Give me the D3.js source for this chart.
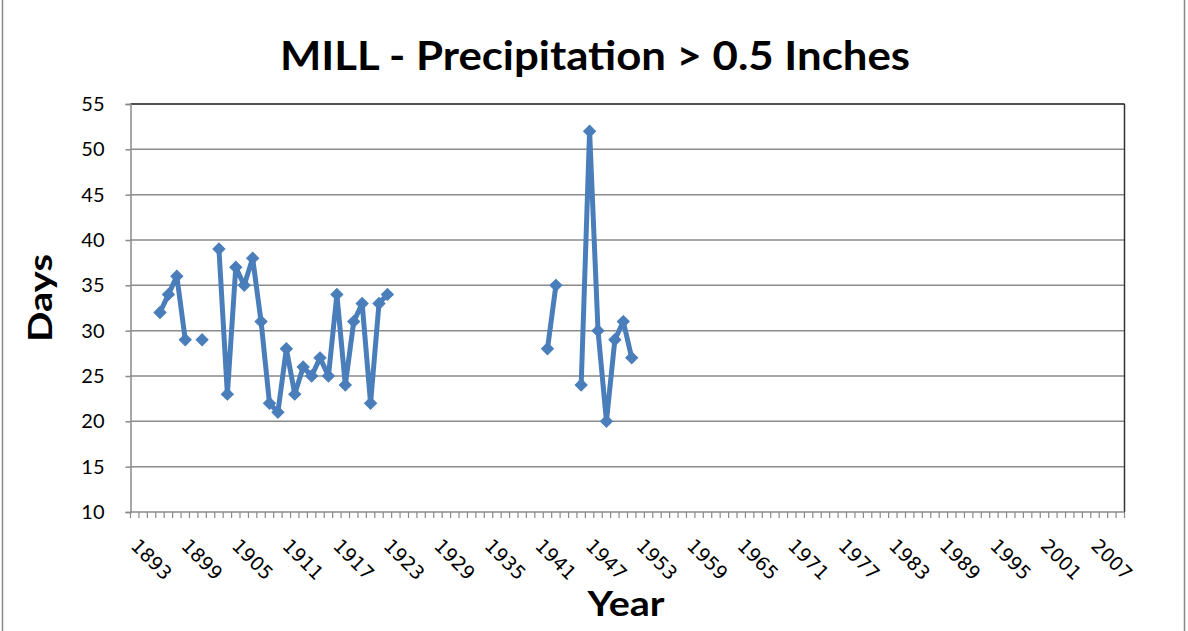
<!DOCTYPE html>
<html>
<head>
<meta charset="utf-8">
<script src="https://cdn.jsdelivr.net/npm/d3@7"></script>
<style>
  html, body { margin: 0; padding: 0; background: #fff; }
  svg { display: block; }
</style>
</head>
<body>
<div id="chart"></div>
<script>
// ---- Data ----
const firstYear = 1893;
const lastYear = 2010;
const years = d3.range(firstYear, lastYear + 1);
const tickLabelYears = d3.range(1893, 2010, 6);
const yTicks = [10, 15, 20, 25, 30, 35, 40, 45, 50, 55];
const obsYears = [1896, 1897, 1898, 1899, 1901, 1903, 1904, 1905, 1906, 1907, 1908, 1909, 1910, 1911, 1912, 1913, 1914, 1915, 1916, 1917, 1918, 1919, 1920, 1921, 1922, 1923, 1942, 1943, 1946, 1947, 1948, 1949, 1950, 1951, 1952];
const obsDays  = [32, 34, 36, 29, 29, 39, 23, 37, 35, 38, 31, 22, 21, 28, 23, 26, 25, 27, 25, 34, 24, 31, 33, 22, 33, 34, 28, 35, 24, 52, 30, 20, 29, 31, 27];
const title = "MILL - Precipitation > 0.5 Inches";
const xTitle = "Year";
const yTitle = "Days";

const lookup = new Map(obsYears.map((y, i) => [y, obsDays[i]]));
const series = years.map(y => ({ year: y, value: lookup.has(y) ? lookup.get(y) : null }));

// ---- Layout ----
const W = 1188, H = 631;
const plot = { left: 130.5, right: 1124.5, top: 104, bottom: 512 };
const font = "Lato, 'Open Sans', 'Liberation Sans', sans-serif";
const tickFont = "'DejaVu Sans', Verdana, sans-serif";

const svg = d3.select("#chart").append("svg").attr("width", W).attr("height", H);

// chart border
svg.append("rect").attr("x", 2.5).attr("y", -10).attr("width", 1182).attr("height", 660)
  .attr("fill", "#fff").attr("stroke", "#888").attr("stroke-width", 1.5);

const x = d3.scaleBand().domain(years).range([plot.left, plot.right]).paddingInner(0).paddingOuter(0);
const y = d3.scaleLinear().domain([10, 55]).range([plot.bottom, plot.top]);

// gridlines
svg.append("g").selectAll("line").data(yTicks.filter(t => t !== 10)).join("line")
  .attr("x1", plot.left).attr("x2", plot.right)
  .attr("y1", d => y(d)).attr("y2", d => y(d))
  .attr("stroke", "#8a8a8a").attr("stroke-width", 1.5);

// plot frame (right, top)
svg.append("line").attr("x1", plot.right).attr("x2", plot.right).attr("y1", plot.top).attr("y2", plot.bottom)
  .attr("stroke", "#333").attr("stroke-width", 1.5);
svg.append("line").attr("x1", plot.left).attr("x2", plot.right).attr("y1", plot.top).attr("y2", plot.top)
  .attr("stroke", "#333").attr("stroke-width", 1.5);

// y axis
const yAxis = d3.axisLeft(y).tickValues(yTicks).tickSize(5).tickPadding(21);
const gy = svg.append("g").attr("transform", `translate(${plot.left},0)`).call(yAxis);
gy.select(".domain").attr("stroke", "#8a8a8a").attr("stroke-width", 1.5);
gy.selectAll(".tick line").attr("stroke", "#8a8a8a").attr("stroke-width", 1.5);
gy.selectAll(".tick text").attr("font-family", font).attr("font-size", 20).attr("fill", "#000");

// x axis: ticks at category boundaries
const gx = svg.append("g");
gx.append("line").attr("x1", plot.left).attr("x2", plot.right).attr("y1", plot.bottom).attr("y2", plot.bottom)
  .attr("stroke", "#8a8a8a").attr("stroke-width", 1.5);
const boundaries = years.map(yr => x(yr)).concat([x(lastYear) + x.bandwidth()]);
gx.selectAll("line.tk").data(boundaries).join("line").attr("class", "tk")
  .attr("x1", d => d).attr("x2", d => d).attr("y1", plot.bottom).attr("y2", plot.bottom + 6)
  .attr("stroke", "#8a8a8a").attr("stroke-width", 1.2);
gx.selectAll("text").data(tickLabelYears).join("text")
  .attr("transform", d => `translate(${x(d) + x.bandwidth() / 2 - 5},${plot.bottom + 35}) rotate(45)`)
  .attr("font-family", tickFont).attr("font-size", 19).attr("fill", "#000")
  .attr("text-anchor", "start")
  .text(d => d);

// line
const line = d3.line().defined(d => d.value !== null)
  .x(d => x(d.year) + x.bandwidth() / 2).y(d => y(d.value));
svg.append("path").datum(series).attr("d", line)
  .attr("fill", "none").attr("stroke", "#4a7ebb").attr("stroke-width", 5).attr("stroke-linejoin", "round");

// markers (diamonds)
svg.append("g").selectAll("path").data(series.filter(d => d.value !== null)).join("path")
  .attr("d", d3.symbol().type(d3.symbolSquare).size(72))
  .attr("transform", d => `translate(${x(d.year) + x.bandwidth() / 2},${y(d.value)}) rotate(45)`)
  .attr("fill", "#4a7ebb").attr("stroke", "#4a7ebb").attr("stroke-width", 1);

// titles
svg.append("text").attr("x", 595).attr("y", 70).attr("text-anchor", "middle")
  .attr("font-family", font).attr("font-weight", "bold").attr("font-size", 40).attr("fill", "#000")
  .attr("textLength", 630).attr("lengthAdjust", "spacingAndGlyphs")
  .text(title);
svg.append("text").attr("x", 626).attr("y", 616).attr("text-anchor", "middle")
  .attr("font-family", font).attr("font-weight", "bold").attr("font-size", 35).attr("fill", "#000")
  .attr("textLength", 77).attr("lengthAdjust", "spacingAndGlyphs")
  .text(xTitle);
svg.append("text").attr("transform", "translate(52,298) rotate(-90)").attr("text-anchor", "middle")
  .attr("font-family", font).attr("font-weight", "bold").attr("font-size", 33).attr("fill", "#000")
  .attr("textLength", 88).attr("lengthAdjust", "spacingAndGlyphs")
  .text(yTitle);
</script>
</body>
</html>
